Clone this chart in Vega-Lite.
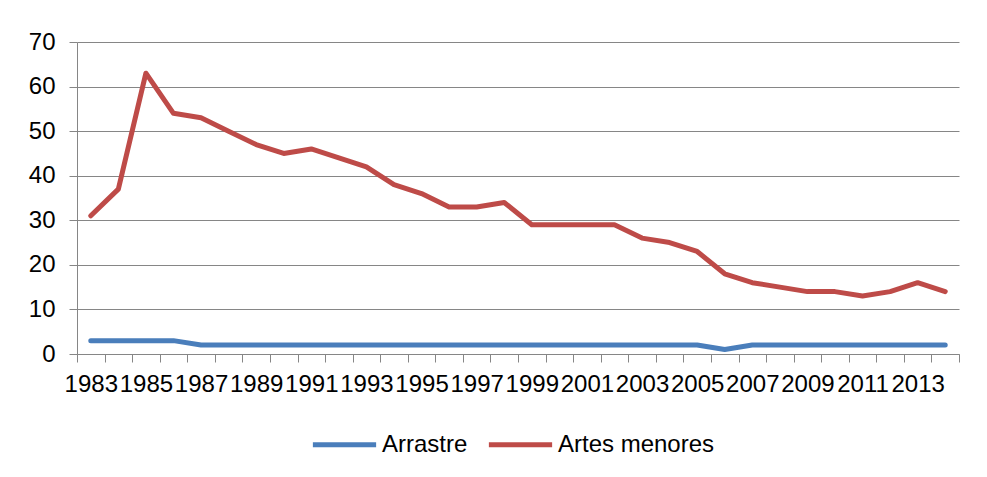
{
  "$schema": "https://vega.github.io/schema/vega-lite/v6.json",
  "width": 882,
  "height": 312,
  "autosize": {"type": "none"},
  "padding": {"left": 77, "top": 42, "right": 28, "bottom": 123},
  "background": "white",
  "config": {
    "view": {"stroke": null},
    "font": "Liberation Sans",
    "axis": {"labelFont": "Liberation Sans", "labelFontSize": 24, "labelColor": "#000000"},
    "legend": {"labelFont": "Liberation Sans", "labelFontSize": 24, "labelColor": "#000000"}
  },
  "data": {
    "values": [
      {"year": "1983", "serie": "Arrastre", "value": 3},
      {"year": "1984", "serie": "Arrastre", "value": 3},
      {"year": "1985", "serie": "Arrastre", "value": 3},
      {"year": "1986", "serie": "Arrastre", "value": 3},
      {"year": "1987", "serie": "Arrastre", "value": 2},
      {"year": "1988", "serie": "Arrastre", "value": 2},
      {"year": "1989", "serie": "Arrastre", "value": 2},
      {"year": "1990", "serie": "Arrastre", "value": 2},
      {"year": "1991", "serie": "Arrastre", "value": 2},
      {"year": "1992", "serie": "Arrastre", "value": 2},
      {"year": "1993", "serie": "Arrastre", "value": 2},
      {"year": "1994", "serie": "Arrastre", "value": 2},
      {"year": "1995", "serie": "Arrastre", "value": 2},
      {"year": "1996", "serie": "Arrastre", "value": 2},
      {"year": "1997", "serie": "Arrastre", "value": 2},
      {"year": "1998", "serie": "Arrastre", "value": 2},
      {"year": "1999", "serie": "Arrastre", "value": 2},
      {"year": "2000", "serie": "Arrastre", "value": 2},
      {"year": "2001", "serie": "Arrastre", "value": 2},
      {"year": "2002", "serie": "Arrastre", "value": 2},
      {"year": "2003", "serie": "Arrastre", "value": 2},
      {"year": "2004", "serie": "Arrastre", "value": 2},
      {"year": "2005", "serie": "Arrastre", "value": 2},
      {"year": "2006", "serie": "Arrastre", "value": 1},
      {"year": "2007", "serie": "Arrastre", "value": 2},
      {"year": "2008", "serie": "Arrastre", "value": 2},
      {"year": "2009", "serie": "Arrastre", "value": 2},
      {"year": "2010", "serie": "Arrastre", "value": 2},
      {"year": "2011", "serie": "Arrastre", "value": 2},
      {"year": "2012", "serie": "Arrastre", "value": 2},
      {"year": "2013", "serie": "Arrastre", "value": 2},
      {"year": "2014", "serie": "Arrastre", "value": 2},
      {"year": "1983", "serie": "Artes menores", "value": 31},
      {"year": "1984", "serie": "Artes menores", "value": 37},
      {"year": "1985", "serie": "Artes menores", "value": 63},
      {"year": "1986", "serie": "Artes menores", "value": 54},
      {"year": "1987", "serie": "Artes menores", "value": 53},
      {"year": "1988", "serie": "Artes menores", "value": 50},
      {"year": "1989", "serie": "Artes menores", "value": 47},
      {"year": "1990", "serie": "Artes menores", "value": 45},
      {"year": "1991", "serie": "Artes menores", "value": 46},
      {"year": "1992", "serie": "Artes menores", "value": 44},
      {"year": "1993", "serie": "Artes menores", "value": 42},
      {"year": "1994", "serie": "Artes menores", "value": 38},
      {"year": "1995", "serie": "Artes menores", "value": 36},
      {"year": "1996", "serie": "Artes menores", "value": 33},
      {"year": "1997", "serie": "Artes menores", "value": 33},
      {"year": "1998", "serie": "Artes menores", "value": 34},
      {"year": "1999", "serie": "Artes menores", "value": 29},
      {"year": "2000", "serie": "Artes menores", "value": 29},
      {"year": "2001", "serie": "Artes menores", "value": 29},
      {"year": "2002", "serie": "Artes menores", "value": 29},
      {"year": "2003", "serie": "Artes menores", "value": 26},
      {"year": "2004", "serie": "Artes menores", "value": 25},
      {"year": "2005", "serie": "Artes menores", "value": 23},
      {"year": "2006", "serie": "Artes menores", "value": 18},
      {"year": "2007", "serie": "Artes menores", "value": 16},
      {"year": "2008", "serie": "Artes menores", "value": 15},
      {"year": "2009", "serie": "Artes menores", "value": 14},
      {"year": "2010", "serie": "Artes menores", "value": 14},
      {"year": "2011", "serie": "Artes menores", "value": 13},
      {"year": "2012", "serie": "Artes menores", "value": 14},
      {"year": "2013", "serie": "Artes menores", "value": 16},
      {"year": "2014", "serie": "Artes menores", "value": 14}
    ]
  },
  "mark": {"type": "line", "strokeWidth": 5, "strokeCap": "round", "strokeJoin": "round"},
  "encoding": {
    "x": {
      "field": "year",
      "type": "ordinal",
      "scale": {"type": "band", "paddingInner": 0, "paddingOuter": 0},
      "axis": {
        "title": null,
        "labelAngle": 0,
        "labelOverlap": false,
        "labelExpr": "toNumber(datum.value) % 2 == 1 ? datum.label : ''",
        "tickBand": "extent",
        "tickSize": 8,
        "tickColor": "#868686",
        "domainColor": "#868686",
        "labelPadding": 10,
        "grid": false
      }
    },
    "y": {
      "field": "value",
      "type": "quantitative",
      "scale": {"domain": [0, 70], "nice": false},
      "axis": {
        "title": null,
        "values": [0, 10, 20, 30, 40, 50, 60, 70],
        "grid": true,
        "gridColor": "#868686",
        "gridWidth": 1,
        "tickSize": 8,
        "tickColor": "#868686",
        "domainColor": "#868686",
        "labelPadding": 14
      }
    },
    "color": {
      "field": "serie",
      "type": "nominal",
      "scale": {"domain": ["Arrastre", "Artes menores"], "range": ["#4A7EBB", "#BE4B48"]},
      "legend": {
        "title": null,
        "orient": "none",
        "direction": "horizontal",
        "legendX": 233,
        "legendY": 368,
        "symbolType": "stroke",
        "symbolSize": 4000,
        "symbolStrokeWidth": 5,
        "labelOffset": 3,
        "columnPadding": 10
      }
    }
  }
}
